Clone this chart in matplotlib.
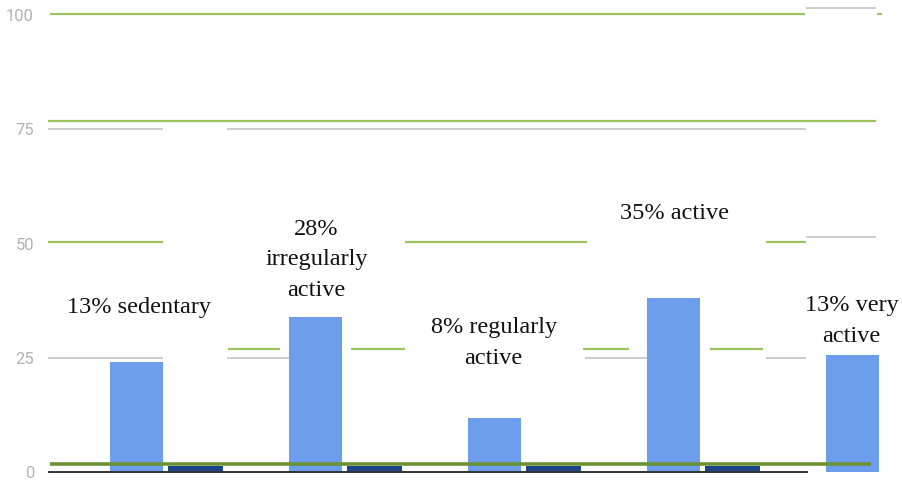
import matplotlib.pyplot as plt

# activity levels and the two series
categories = ["sedentary", "irregularly active", "regularly active", "active", "very active"]
share_values = [24.1, 33.9, 11.8, 38.1, 25.6]
baseline_values = [1.3, 1.3, 1.3, 1.3, 1.3]
labels = ["13% sedentary", "28%\nirregularly\nactive", "8% regularly\nactive",
          "35% active", "13% very\nactive"]
y_ticks = [0, 25, 50, 75, 100]

# label placement (x offset from group, y in data units)
label_pos = [(-0.15, 36.1), (-0.16, 46.4), (-0.17, 28.2), (-0.16, 56.5), (-0.17, 33.0)]

LIGHT = "#6d9eeb"
NAVY = "#1c4587"
GRID = "#cccccc"
GREEN = "#9bc45e"
DARK_GREEN = "#6a9234"


def px(p):
    # horizontal pixel -> data x (group 0 centred at 166px, 179px per group)
    return (p - 166) / 179.0


fig = plt.figure(figsize=(9.03, 4.84), dpi=100)
ax = fig.add_axes([48 / 903, 0, (883 - 48) / 903, 1])
ax.set_xlim(px(48), px(883))
ax.set_ylim(-2.63, 103.3)

# broken grid lines, partly hidden behind the text boxes
grid_segments = [
    (25, [(48, 163), (227, 290), (585, 648), (766, 806)]),
    (75, [(48, 163), (227, 806)]),
    (101.5, [(806, 876)]),
    (51.4, [(806, 876)]),
]
for y, spans in grid_segments:
    for a, b in spans:
        ax.plot([px(a), px(b)], [y, y], color=GRID, lw=1.4, solid_capstyle="butt", zorder=1)

green_segments = [
    (100.2, [(50, 805), (877, 882)]),
    (76.9, [(45, 876)]),
    (50.3, [(48, 163), (405, 587), (766, 806)]),
    (27.0, [(228, 280), (351, 405), (583, 629), (710, 763)]),
]
for y, spans in green_segments:
    for a, b in spans:
        ax.plot([px(a), px(b)], [y, y], color=GREEN, lw=1.6, solid_capstyle="butt", zorder=2)

x = list(range(len(categories)))
ax.bar([i - 0.165 for i in x], share_values, width=0.3, color=LIGHT, zorder=3)
ax.bar([i + 0.165 for i in x], baseline_values, width=0.31, color=NAVY, zorder=3)

# baseline axis and the thick trend line
ax.plot([px(48), px(807)], [0, 0], color="#333333", lw=1.4, zorder=4)
ax.plot([px(50), px(871)], [1.75, 1.75], color=DARK_GREEN, lw=2.6, solid_capstyle="butt", zorder=5)

for i, (text, (dx, ty)) in enumerate(zip(labels, label_pos)):
    ax.text(i + dx, ty, text, ha="center", va="center", fontsize=17.5,
            family="Liberation Serif", linespacing=1.6, color="#111111", zorder=6)

for s in ax.spines.values():
    s.set_visible(False)
ax.set_xticks([])
ax.set_yticks(y_ticks)
ax.tick_params(axis="y", length=0, pad=10, labelsize=12, labelcolor="#b3b3b3")
for t in ax.get_yticklabels():
    t.set_family("Roboto")

fig.savefig("out.png", dpi=100)
